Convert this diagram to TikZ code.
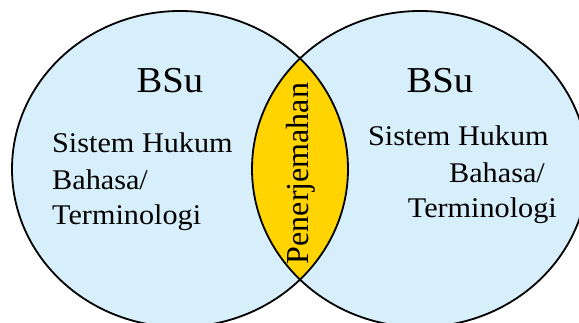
\documentclass[tikz,border=0pt]{standalone}
\usepackage{fontspec}
\setmainfont{Liberation Serif}[FakeStretch=1.06]
\newfontfamily\lensfont{Liberation Serif}
\definecolor{venblue}{RGB}{215,239,251}
\definecolor{lensyellow}{RGB}{255,212,0}
\tikzset{
  bsu/.style={anchor=base, inner sep=0pt, font=\fontsize{36.5}{40}\selectfont},
  item/.style={inner sep=0pt, font=\fontsize{28.5}{34}\selectfont},
  ring/.style={draw=black, line width=1.8pt}
}
\begin{document}
\begin{tikzpicture}[x=1pt,y=1pt]
        \useasboundingbox (0,0) rectangle (579,323);
        \clip (0,0) rectangle (579,323);
        \fill[venblue] (180,154) ellipse [x radius=168, y radius=158];
        \fill[venblue] (420,154) ellipse [x radius=168, y radius=158];
        \begin{scope}
        \clip (180,154) ellipse [x radius=168, y radius=158];
        \fill[lensyellow] (420,154) ellipse [x radius=168, y radius=158];
        \end{scope}
        \draw[ring] (180,154) ellipse [x radius=168, y radius=158];
        \draw[ring] (420,154) ellipse [x radius=168, y radius=158];
        % left circle
        \node[bsu] (bsuL) at (170,230) {BSu};
        \node[item, anchor=base west] (hukumL) at (52,170) {Sistem Hukum};
        \node[item, anchor=base west] (bahasaL) at (52,133) {Bahasa/};
        \node[item, anchor=base west] (termL) at (52,98) {Terminologi};
        % right circle
        \node[bsu] (bsuR) at (440,230) {BSu};
        \node[item, anchor=base west] (hukumR) at (368,177) {Sistem Hukum};
        \node[item, anchor=base east] (bahasaR) at (545,140) {Bahasa/};
        \node[item, anchor=base east] (termR) at (557,105) {Terminologi};
        % irisan
        \node[anchor=base, inner sep=0pt, rotate=90, font=\lensfont\fontsize{32}{36}\selectfont] (lens) at (308,149.5) {Penerjemahan};
\end{tikzpicture}
\end{document}
